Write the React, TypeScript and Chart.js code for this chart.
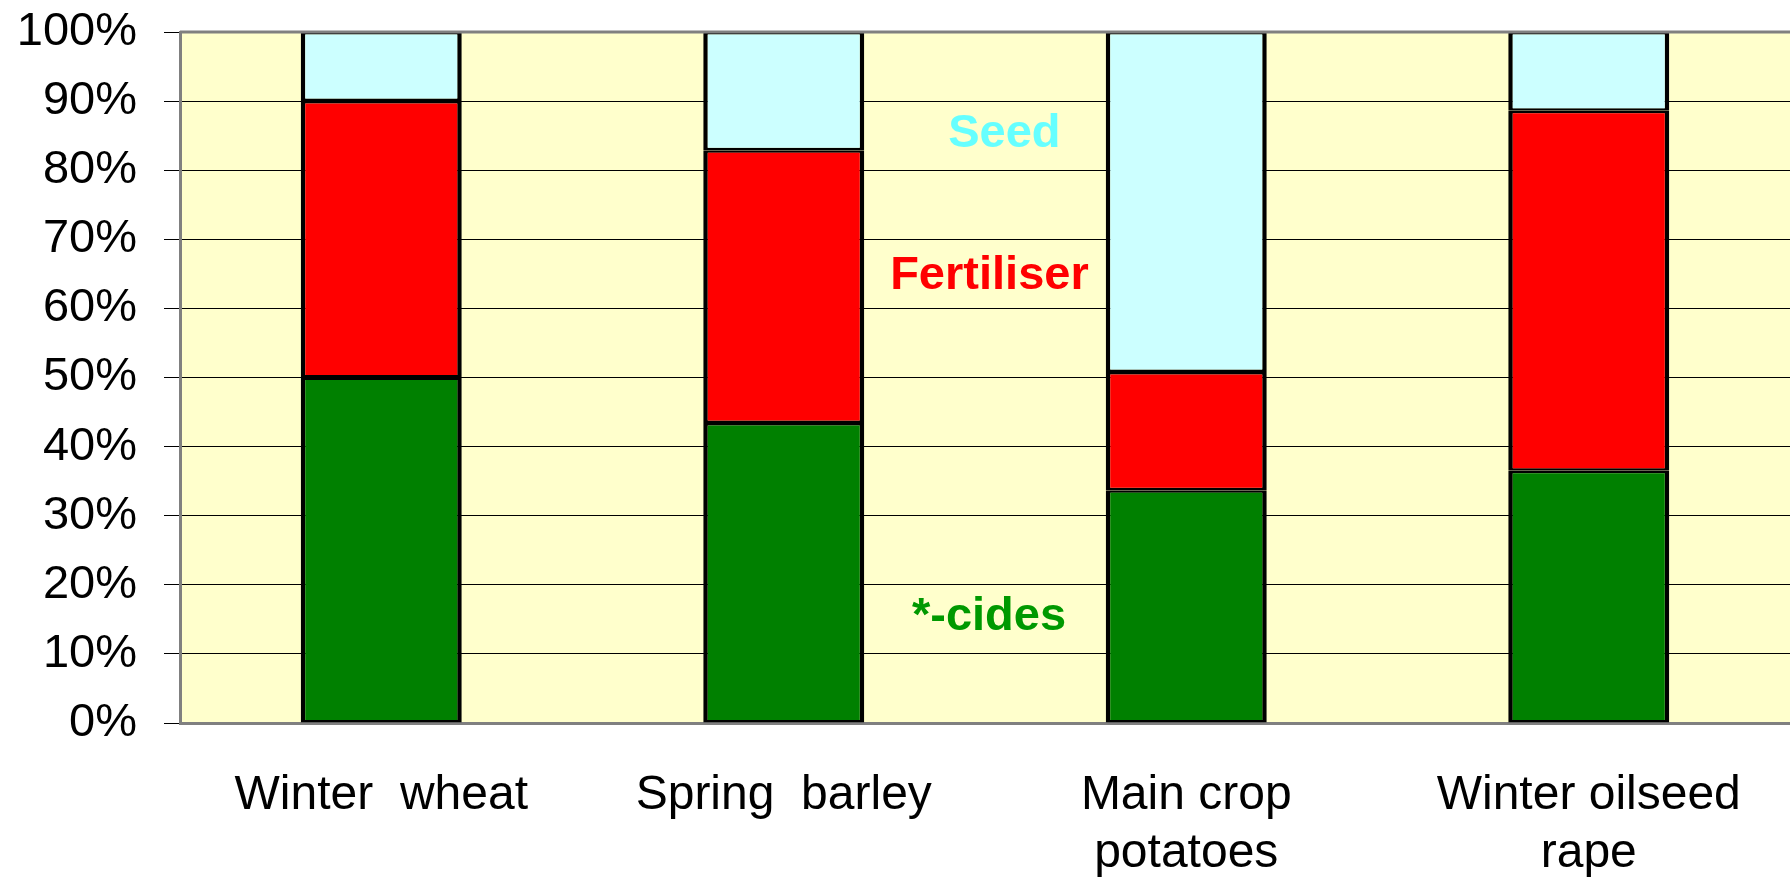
import React, { useEffect, useRef } from "react";
import { Chart, registerables } from "chart.js";

Chart.register(...registerables);

const categories: string[][] = [
  ["Winter  wheat"],
  ["Spring  barley"],
  ["Main crop", "potatoes"],
  ["Winter oilseed", "rape"],
];
const cidesValues = [50, 43.4, 33.7, 36.5];
const fertiliserValues = [40, 39.5, 17.1, 52.1];
const seedValues = [10, 17.1, 49.2, 11.4];
const yTickValues = [0, 10, 20, 30, 40, 50, 60, 70, 80, 90, 100];

const FONT = "'Liberation Sans', Arial, sans-serif";

const bgPlugin = {
  id: "plotBg",
  beforeDraw(chart: any) {
    const { ctx, chartArea } = chart;
    ctx.save();
    ctx.fillStyle = "#FFFFCC";
    ctx.fillRect(chartArea.left, chartArea.top, chartArea.right - chartArea.left, chartArea.bottom - chartArea.top);
    ctx.restore();
  },
  afterDatasetsDraw(chart: any) {
    const { ctx, chartArea, scales } = chart;
    ctx.save();
    ctx.strokeStyle = "#808080";
    ctx.lineWidth = 3;
    ctx.beginPath();
    ctx.moveTo(chartArea.left, scales.y.getPixelForValue(100));
    ctx.lineTo(chartArea.right, scales.y.getPixelForValue(100));
    ctx.stroke();
    ctx.restore();
    const notes = [
      { text: "Seed", color: "#66FFFF", x: 1.548, y: 83.4 },
      { text: "Fertiliser", color: "#FF0000", x: 1.511, y: 62.8 },
      { text: "*-cides", color: "#009900", x: 1.51, y: 13.5 },
    ];
    ctx.save();
    ctx.font = `bold 47px ${FONT}`;
    ctx.textAlign = "center";
    ctx.textBaseline = "alphabetic";
    for (const n of notes) {
      ctx.fillStyle = n.color;
      ctx.fillText(n.text, scales.x.getPixelForValue(n.x), scales.y.getPixelForValue(n.y));
    }
    ctx.restore();
  },
};

export default function App() {
  const ref = useRef<HTMLCanvasElement>(null);
  useEffect(() => {
    if (!ref.current) return;
    const common = {
      borderColor: "#000000",
      borderWidth: { top: 2.5, bottom: 2.5, left: 4.5, right: 4.5 },
      borderSkipped: false as const,
      barPercentage: 0.4,
      categoryPercentage: 1,
    };
    const chart = new Chart(ref.current, {
      type: "bar",
      data: {
        labels: categories as any,
        datasets: [
          { label: "*-cides", data: cidesValues, backgroundColor: "#008000", ...common },
          { label: "Fertiliser", data: fertiliserValues, backgroundColor: "#FF0000", ...common },
          { label: "Seed", data: seedValues, backgroundColor: "#CCFFFF", ...common },
        ],
      },
      options: {
        responsive: false,
        animation: false,
        layout: { padding: { top: 32, right: 0, left: 0, bottom: 0 } },
        plugins: { legend: { display: false }, tooltip: { enabled: false } },
        scales: {
          x: {
            stacked: true,
            grid: { display: false, drawTicks: false },
            border: { display: true, color: "#808080", width: 3 },
            ticks: { color: "#000", font: { family: FONT, size: 48, lineHeight: 1.2 }, padding: 44, maxRotation: 0, autoSkip: false },
            afterFit: (s: any) => { s.height = 160; s.paddingLeft = 0; s.paddingRight = 0; },
          },
          y: {
            stacked: true,
            min: 0,
            max: 100,
            afterBuildTicks: (s: any) => { s.ticks = yTickValues.map((v) => ({ value: v })); },
            grid: { color: "#000000", lineWidth: 1, tickLength: 16, drawTicks: true },
            border: { display: true, color: "#808080", width: 3 },
            ticks: { color: "#000", font: { family: FONT, size: 47 }, padding: 27, callback: (v: any) => v + "%" },
            afterFit: (s: any) => { s.width = 180; s.paddingTop = 0; s.paddingBottom = 0; },
          },
        },
      },
      plugins: [bgPlugin],
    });
    return () => chart.destroy();
  }, []);
  return (
    <div style={{ position: "absolute", left: 0, top: 0, width: 1790, height: 883, background: "#fff" }}>
      <canvas ref={ref} width={1790} height={883} style={{ display: "block" }} />
    </div>
  );
}
